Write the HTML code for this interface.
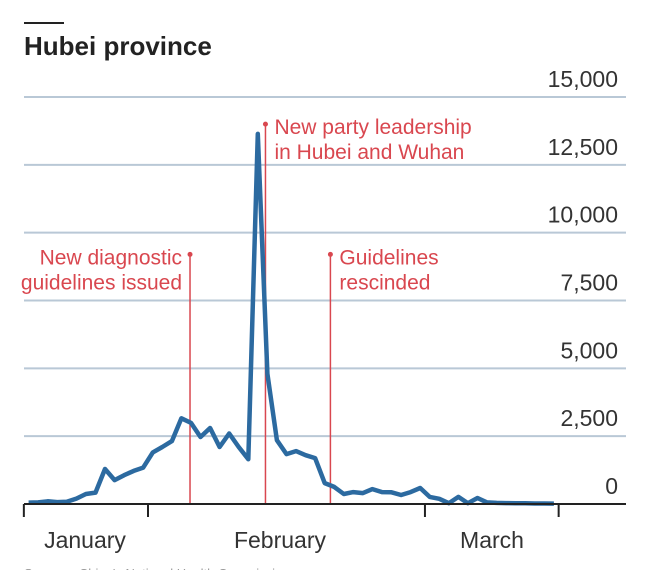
<!DOCTYPE html>
<html><head><meta charset="utf-8"><style>
html,body{margin:0;padding:0;background:#fff;width:646px;height:570px;overflow:hidden}
svg{display:block}
text{font-family:"Liberation Sans Narrow","Liberation Sans",sans-serif}
</style></head><body>
<svg id="chart" width="646" height="570">
<rect x="24" y="22" width="40" height="2" fill="#222"/>
<text x="24" y="55" font-size="26" font-weight="bold" fill="#222">Hubei province</text>
<g id="grid"></g>
<g id="annos"></g>
<g id="series"></g>
<g id="xaxis"></g>
<text x="24" y="578" font-size="13" fill="#999">Sources: China's National Health Commission</text>
</svg>
<script>
const yTicks=[0,2500,5000,7500,10000,12500,15000];
const yTickLabels=["0","2,500","5,000","7,500","10,000","12,500","15,000"];
const monthLabels=["January","February","March"];
const monthTickDays=[-13,0,29,43];
const monthLabelX=[85,280,492];
const values=[50,60,100,70,80,200,370,420,1290,880,1060,1220,1340,1900,2100,2320,3160,2990,2470,2800,2100,2600,2100,1650,13640,4800,2350,1840,1950,1800,1690,770,630,370,440,400,550,440,430,330,440,590,260,190,30,260,30,220,60,40,35,30,25,20,20,15];
const firstDay=-12.5;
const annoDays=[4.4,12.3,19.1];
const annoText=[["New diagnostic","guidelines issued"],["New party leadership","in Hubei and Wuhan"],["Guidelines","rescinded"]];
const annoValue=[9200,14000,9200];

const NS="http://www.w3.org/2000/svg";
const y=v=>504-v*(407/15000);
const x=d=>148+d*9.55;
function mk(tag,attrs,parent){const e=document.createElementNS(NS,tag);for(const k in attrs)e.setAttribute(k,attrs[k]);parent.appendChild(e);return e;}
const grid=document.getElementById('grid');
yTicks.forEach((v,i)=>{
  if(v>0){const l=mk('line',{x1:24,x2:626,y1:y(v),y2:y(v),stroke:'#b9c8d6','stroke-width':2},grid);
  
  }
  const t=mk('text',{x:618,y:y(v)-10,'text-anchor':'end','font-size':23,fill:'#333'},grid);
  t.textContent=yTickLabels[i];
  
  
});
const an=document.getElementById('annos');
annoDays.forEach((d,i)=>{
  const ax=x(d),ay=y(annoValue[i]);
  const l=mk('line',{x1:ax,x2:ax,y1:ay,y2:504,stroke:'#d9474f','stroke-width':1.5},an);
  
  
  const c=mk('circle',{cx:ax,cy:ay,r:2.5,fill:'#d9474f'},an);
  
  
  const left=i===0;
  annoText[i].forEach((s,j)=>{
    const t=mk('text',{x:left?ax-8:ax+9,y:ay+10+j*25,'text-anchor':left?'end':'start','font-size':21,fill:'#d9474f'},an);
    t.textContent=s;
    
    
  });
});
const pts=values.map((v,i)=>x(firstDay+i).toFixed(1)+','+y(v).toFixed(1)).join(' ');
const pl=mk('polyline',{points:pts,fill:'none',stroke:'#2c6aa0','stroke-width':4.5,'stroke-linejoin':'round'},document.getElementById('series'));


const xa=document.getElementById('xaxis');
const bl=mk('line',{x1:24,x2:626,y1:504,y2:504,stroke:'#222','stroke-width':2},xa);


monthTickDays.forEach(d=>{
  const t=mk('line',{x1:x(d),x2:x(d),y1:504,y2:517,stroke:'#222','stroke-width':2},xa);
  
  
});
monthLabels.forEach((m,i)=>{
  const t=mk('text',{x:monthLabelX[i],y:548,'text-anchor':'middle','font-size':23,fill:'#333'},xa);
  t.textContent=m;
  
  
});
</script>
</body></html>
